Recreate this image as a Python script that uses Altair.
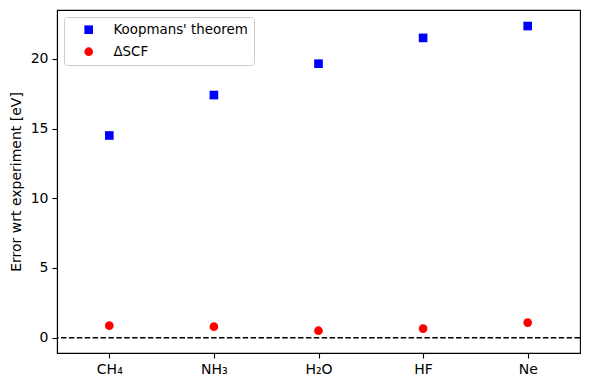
import altair as alt
import pandas as pd

molecules = ["CH₄", "NH₃", "H₂O", "HF", "Ne"]
koopmans = [14.5, 17.4, 19.65, 21.5, 22.35]
dscf = [0.86, 0.79, 0.5, 0.65, 1.08]
series_names = ["Koopmans' theorem", "ΔSCF"]

rows = []
for m, k, d in zip(molecules, koopmans, dscf):
    rows.append({"molecule": m, "value": k, "series": series_names[0]})
    rows.append({"molecule": m, "value": d, "series": series_names[1]})
df = pd.DataFrame(rows)

FONT = "DejaVu Sans"

x_enc = alt.X("molecule:N", sort=molecules,
              scale=alt.Scale(type="point", padding=0.5),
              axis=alt.Axis(title=None, labelAngle=0))

points = alt.Chart(df).mark_point(filled=True, size=75, opacity=1).encode(
    x=x_enc,
    y=alt.Y("value:Q", scale=alt.Scale(domain=[-1.1, 23.5], nice=False, zero=False),
            axis=alt.Axis(title="Error wrt experiment [eV]", values=[0, 5, 10, 15, 20])),
    color=alt.Color("series:N", scale=alt.Scale(domain=series_names, range=["#0000ff", "#ff0000"]),
                    legend=alt.Legend(title=None, orient="top-left", offset=7)),
    shape=alt.Shape("series:N", scale=alt.Scale(domain=series_names, range=["square", "circle"]),
                    legend=alt.Legend(title=None, orient="top-left", offset=7)),
)

zero_line = alt.Chart(pd.DataFrame({"y": [0]})).mark_rule(
    color="black", strokeDash=[5.5, 2.4], strokeWidth=1.5
).encode(y="y:Q")

chart = alt.layer(zero_line, points).properties(
    width=523, height=343,
    autosize=alt.AutoSizeParams(type="none"),
    padding={"left": 49, "top": 2, "right": 2, "bottom": 29},
).configure_view(
    stroke="black", strokeWidth=1.1
).configure_axis(
    domainColor="black", domainWidth=1.1, tickColor="black", tickSize=5, tickWidth=1.1,
    labelColor="black", labelFont=FONT, labelFontSize=14, labelPadding=4,
    titleFont=FONT, titleFontSize=14, titleFontWeight="normal", titleColor="black",
    titlePadding=7, grid=False,
).configure_legend(
    labelFont=FONT, labelFontSize=13.4, labelColor="black",
    fillColor="white", strokeColor="#cccccc", cornerRadius=3,
    padding=6, symbolOffset=12, labelOffset=18, rowPadding=7,
    symbolSize=75, symbolStrokeWidth=0,
)

chart.save("out.html", embed_options={"renderer": "svg", "actions": False})
